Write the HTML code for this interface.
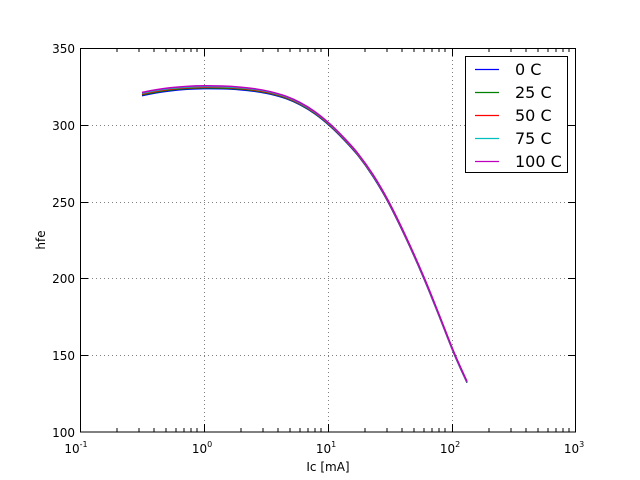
<!DOCTYPE html>
<html><head><meta charset="utf-8"><style>
html,body{margin:0;padding:0;background:#fff}
svg{display:block;font-family:"DejaVu Sans","Liberation Sans",sans-serif}
</style></head><body>
<svg id="s" width="640" height="480" viewBox="0 0 640 480" xmlns="http://www.w3.org/2000/svg">
<rect width="640" height="480" fill="#fff"/>
<g stroke="#808080" stroke-width="1" stroke-dasharray="1,3" fill="none">
<line x1="204.5" y1="48" x2="204.5" y2="432"/><line x1="328.5" y1="48" x2="328.5" y2="432"/><line x1="452.5" y1="48" x2="452.5" y2="432"/>
<line x1="80" y1="125.5" x2="576" y2="125.5"/><line x1="80" y1="202.5" x2="576" y2="202.5"/><line x1="80" y1="278.5" x2="576" y2="278.5"/><line x1="80" y1="355.5" x2="576" y2="355.5"/>
</g>
<g id="curves" fill="none" stroke-width="1.5" stroke-linejoin="round">
<path id="p0" stroke="#0000ff"/>
<path id="p1" stroke="#008000"/>
<path id="p2" stroke="#ff0000"/>
<path id="p3" stroke="#00bfbf"/>
<path id="p4" stroke="#bf00bf"/>
</g>
<rect x="80.5" y="48.5" width="495" height="383.5" fill="none" stroke="#000" stroke-width="1"/>
<g stroke="#000" stroke-width="1">
<path d="M204.5,432v-8M328.5,432v-8M452.5,432v-8M204.5,48v8M328.5,48v8M452.5,48v8"/>
<path d="M117,432v-4M139,432v-4M154,432v-4M166,432v-4M176,432v-4M184,432v-4M191,432v-4M197,432v-4
M241,432v-4M263,432v-4M278,432v-4M290,432v-4M300,432v-4M308,432v-4M315,432v-4M321,432v-4
M365,432v-4M387,432v-4M402,432v-4M414,432v-4M424,432v-4M432,432v-4M439,432v-4M445,432v-4
M489,432v-4M511,432v-4M526,432v-4M538,432v-4M548,432v-4M556,432v-4M563,432v-4M569,432v-4
M117,48v4M139,48v4M154,48v4M166,48v4M176,48v4M184,48v4M191,48v4M197,48v4
M241,48v4M263,48v4M278,48v4M290,48v4M300,48v4M308,48v4M315,48v4M321,48v4
M365,48v4M387,48v4M402,48v4M414,48v4M424,48v4M432,48v4M439,48v4M445,48v4
M489,48v4M511,48v4M526,48v4M538,48v4M548,48v4M556,48v4M563,48v4M569,48v4"/>
<path d="M80,125.5h8M80,202.5h8M80,278.5h8M80,355.5h8M576,125.5h-8M576,202.5h-8M576,278.5h-8M576,355.5h-8"/>
</g>
<g font-size="12" fill="#000" text-anchor="end">
<text x="75" y="437">100</text><text x="75" y="360">150</text><text x="75" y="283">200</text><text x="75" y="207">250</text><text x="75" y="130">300</text><text x="75" y="53">350</text>
</g>
<g font-size="12" fill="#000" text-anchor="middle">
<text x="76" y="453">10<tspan font-size="8" dy="-6">-1</tspan></text>
<text x="202" y="453">10<tspan font-size="8" dy="-6">0</tspan></text>
<text x="326" y="453">10<tspan font-size="8" dy="-6">1</tspan></text>
<text x="450" y="453">10<tspan font-size="8" dy="-6">2</tspan></text>
<text x="574" y="453">10<tspan font-size="8" dy="-6">3</tspan></text>
<text x="328" y="471">Ic [mA]</text>
<text transform="translate(45,240) rotate(-90)">hfe</text>
</g>
<rect x="465.5" y="56.5" width="102" height="116" fill="#fff" stroke="#000"/>
<g stroke-width="1.2">
<line x1="475" y1="69.5" x2="499" y2="69.5" stroke="#0000ff"/>
<line x1="475" y1="92.5" x2="499" y2="92.5" stroke="#008000"/>
<line x1="475" y1="115.5" x2="499" y2="115.5" stroke="#ff0000"/>
<line x1="475" y1="138.5" x2="499" y2="138.5" stroke="#00bfbf"/>
<line x1="475" y1="161.5" x2="499" y2="161.5" stroke="#bf00bf"/>
</g>
<g font-size="16" fill="#000">
<text x="515" y="75">0 C</text><text x="515" y="98">25 C</text><text x="515" y="121">50 C</text><text x="515" y="144">75 C</text><text x="515" y="167">100 C</text>
</g>
</svg>
<script>
var pts=[[142,94],[156,91.3],[170,89.3],[187,87.8],[204,87.2],[222,87.4],[240,88.4],[256,90.2],[270,92.8],[286,97.4],[300,103.6],[315,112.8],[330,125],[344,138.8],[358,154.5],[373,175.5],[388,201],[406,237.5],[424,278],[439,315],[454,353],[467,382]];
function path(off){
 var p=pts.map(function(q){var t=(q[0]-142)/(467-142);return [q[0],q[1]+off*(1-0.6*t)];});
 var d="M"+p[0][0]+","+p[0][1];
 for(var i=0;i<p.length-1;i++){
  var p0=p[Math.max(i-1,0)],p1=p[i],p2=p[i+1],p3=p[Math.min(i+2,p.length-1)];
  var c1=[p1[0]+(p2[0]-p0[0])/6,p1[1]+(p2[1]-p0[1])/6];
  var c2=[p2[0]-(p3[0]-p1[0])/6,p2[1]-(p3[1]-p1[1])/6];
  d+=" C"+c1[0].toFixed(2)+","+c1[1].toFixed(2)+" "+c2[0].toFixed(2)+","+c2[1].toFixed(2)+" "+p2[0]+","+p2[1].toFixed(2);
 }
 return d;
}
var offs=[1.6,0.8,0,-0.8,-1.6];
for(var k=0;k<5;k++)document.getElementById("p"+k).setAttribute("d",path(offs[k]));
</script>
</body></html>
